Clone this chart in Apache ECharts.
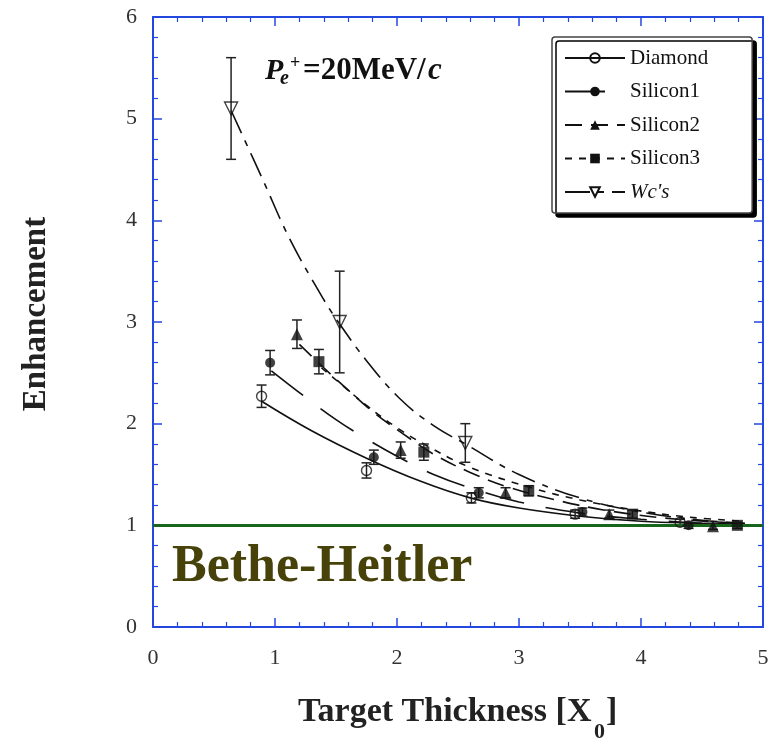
<!DOCTYPE html>
<html>
<head>
<meta charset="utf-8">
<script src="https://cdn.jsdelivr.net/npm/echarts@6/dist/echarts.min.js"></script>
<style>
  html, body { margin: 0; padding: 0; background: #fff; }
  #chart { width: 776px; height: 743px; }
</style>
</head>
<body>
<div id="chart"></div>
<script>
// Axis ticks
const xTickValues = [0, 1, 2, 3, 4, 5];
const yTickValues = [0, 1, 2, 3, 4, 5, 6];
const betheHeitler = 1;

// Measured enhancement (x = target thickness in X0) with errors
const diamondX   = [0.89, 1.75, 2.61, 3.46, 4.32];
const diamondY   = [2.27, 1.54, 1.27, 1.11, 1.03];
const diamondErr = [0.11, 0.075, 0.05, 0.04, 0.03];

const silicon1X   = [0.96, 1.81, 2.67, 3.52, 4.39];
const silicon1Y   = [2.60, 1.67, 1.32, 1.13, 1.00];
const silicon1Err = [0.12, 0.07, 0.05, 0.04, 0.03];

const silicon2X   = [1.18, 2.03, 2.89, 3.74, 4.59];
const silicon2Y   = [2.88, 1.74, 1.32, 1.11, 0.99];
const silicon2Err = [0.14, 0.08, 0.05, 0.04, 0.03];

const silicon3X   = [1.36, 2.22, 3.08, 3.93, 4.79];
const silicon3Y   = [2.61, 1.72, 1.34, 1.11, 1.00];
const silicon3Err = [0.12, 0.08, 0.05, 0.04, 0.03];

const wcX   = [0.64, 1.53, 2.56];
const wcY   = [5.10, 3.00, 1.81];
const wcErr = [0.50, 0.50, 0.19];

// Fitted curves
const diamondFitX = [0.89, 1.3, 1.75, 2.2, 2.6, 3.0, 3.5, 4.0, 4.5, 4.85];
const diamondFitY = [2.22, 1.93, 1.66, 1.43, 1.27, 1.17, 1.09, 1.04, 1.02, 1.01];

const silicon1FitX = [0.97, 1.25, 1.5, 1.75, 2.0, 2.3, 2.65, 3.0, 3.5, 4.0, 4.5, 4.85];
const silicon1FitY = [2.52, 2.26, 2.04, 1.85, 1.68, 1.50, 1.35, 1.23, 1.12, 1.06, 1.02, 1.01];

const silicon2FitX = [1.2, 1.4, 1.6, 1.8, 2.05, 2.3, 2.6, 2.9, 3.3, 3.75, 4.3, 4.85];
const silicon2FitY = [2.78, 2.55, 2.33, 2.12, 1.90, 1.70, 1.52, 1.38, 1.25, 1.14, 1.06, 1.02];

const silicon3FitX = [1.38, 1.52, 1.75, 2.0, 2.25, 2.6, 3.1, 3.5, 3.95, 4.4, 4.85];
const silicon3FitY = [2.55, 2.41, 2.18, 1.96, 1.78, 1.57, 1.37, 1.25, 1.15, 1.08, 1.04];

const wcFitX = [0.64, 0.9, 1.12, 1.39, 1.53, 1.75, 2.02, 2.3, 2.56, 3.0, 3.5, 4.0, 4.5, 4.85];
const wcFitY = [5.08, 4.40, 3.82, 3.24, 2.98, 2.62, 2.25, 1.98, 1.80, 1.50, 1.27, 1.13, 1.05, 1.02];

const serif = 'Liberation Serif, Times New Roman, serif';
const axisBlue = '#2447e0';
const ink = '#111';

const zip = (xs, ys) => xs.map((x, i) => [x, ys[i]]);
const errRows = (xs, ys, es) => xs.map((x, i) => [x, ys[i] - es[i], ys[i] + es[i]]);

const groups = [
  { name: 'Diamond', x: diamondX, y: diamondY, e: diamondErr, fx: diamondFitX, fy: diamondFitY,
    symbol: 'circle', size: 10, hollow: true, rotate: 0, dash: 'solid' },
  { name: 'Silicon1', x: silicon1X, y: silicon1Y, e: silicon1Err, fx: silicon1FitX, fy: silicon1FitY,
    symbol: 'circle', size: 10, hollow: false, rotate: 0, dash: [40, 22] },
  { name: 'Silicon2', x: silicon2X, y: silicon2Y, e: silicon2Err, fx: silicon2FitX, fy: silicon2FitY,
    symbol: 'triangle', size: 12, hollow: false, rotate: 0, dash: [17, 9] },
  { name: 'Silicon3', x: silicon3X, y: silicon3Y, e: silicon3Err, fx: silicon3FitX, fy: silicon3FitY,
    symbol: 'rect', size: 11, hollow: false, rotate: 0, dash: [7, 7] },
  { name: "Wc's", x: wcX, y: wcY, e: wcErr, fx: wcFitX, fy: wcFitY,
    symbol: 'triangle', size: 13, hollow: true, rotate: 180, dash: [25, 8, 6, 8] }
];

const markerStyle = g => g.hollow
  ? { color: 'rgba(255,255,255,0)', borderColor: ink, borderWidth: 1.4 }
  : { color: ink, borderColor: ink, borderWidth: 0 };

const series = [];
groups.forEach(g => {
  // fitted curve (also supplies the legend icon)
  series.push({
    type: 'line', name: g.name, data: zip(g.fx, g.fy),
    smooth: 0.4, showSymbol: false, symbol: g.symbol, symbolSize: g.size,
    symbolRotate: g.rotate, itemStyle: markerStyle(g),
    lineStyle: { color: ink, width: 1.6, type: g.dash },
    silent: true, z: 3
  });
});
groups.forEach(g => {
  // vertical error bars with caps
  series.push({
    type: 'custom', name: g.name + ' errors', data: errRows(g.x, g.y, g.e), silent: true, z: 4,
    renderItem: (params, api) => {
      const x = api.value(0);
      const top = api.coord([x, api.value(2)]);
      const bot = api.coord([x, api.value(1)]);
      const w = 5;
      const st = { stroke: '#222', lineWidth: 1.5 };
      return { type: 'group', children: [
        { type: 'line', shape: { x1: top[0], y1: top[1], x2: bot[0], y2: bot[1] }, style: st },
        { type: 'line', shape: { x1: top[0] - w, y1: top[1], x2: top[0] + w, y2: top[1] }, style: st },
        { type: 'line', shape: { x1: bot[0] - w, y1: bot[1], x2: bot[0] + w, y2: bot[1] }, style: st }
      ]};
    }
  });
  // data markers
  series.push({
    type: 'scatter', name: g.name, data: zip(g.x, g.y),
    symbol: g.symbol, symbolSize: g.size, symbolRotate: g.rotate,
    itemStyle: markerStyle(g), silent: true, z: 5
  });
});

// Bethe-Heitler reference level
series.push({
  type: 'line', name: 'Bethe-Heitler', data: [], silent: true,
  markLine: {
    silent: true, symbol: 'none', label: { show: false },
    lineStyle: { color: '#17661b', width: 3, type: 'solid' },
    data: [{ yAxis: betheHeitler }]
  }
});

const xMin = xTickValues[0], xMax = xTickValues[xTickValues.length - 1];
const yMin = yTickValues[0], yMax = yTickValues[yTickValues.length - 1];

const axisCommon = () => ({
  type: 'value',
  axisLine: { show: true, onZero: false, lineStyle: { color: axisBlue, width: 2 } },
  axisTick: { show: true, inside: true, length: 9, lineStyle: { color: axisBlue, width: 1.5 } },
  minorTick: { show: true, splitNumber: 5, length: 5, lineStyle: { color: axisBlue, width: 1.2 } },
  splitLine: { show: false },
  minorSplitLine: { show: false }
});

const chart = echarts.init(document.getElementById('chart'), null, { renderer: 'canvas' });
chart.setOption({
  backgroundColor: '#fff',
  animation: false,
  grid: { left: 153, right: 13, top: 17, bottom: 116 },
  xAxis: [
    Object.assign(axisCommon(), {
      position: 'bottom', min: xMin, max: xMax, interval: 1,
      axisLabel: { show: true, margin: 20, fontFamily: serif, fontSize: 22, color: '#333',
        formatter: v => String(v) }
    }),
    Object.assign(axisCommon(), {
      position: 'top', min: xMin, max: xMax, interval: 1, axisLabel: { show: false }
    })
  ],
  yAxis: [
    Object.assign(axisCommon(), {
      position: 'left', min: yMin, max: yMax, interval: 1,
      axisLabel: { show: true, margin: 16, fontFamily: serif, fontSize: 22, color: '#333',
        formatter: v => String(v) }
    }),
    Object.assign(axisCommon(), {
      position: 'right', min: yMin, max: yMax, interval: 1, axisLabel: { show: false }
    })
  ],
  legend: {
    data: groups.map(g => g.name),
    orient: 'vertical',
    left: 552, top: 37,
    padding: [10, 44, 10, 12],
    itemWidth: 60, itemHeight: 12, itemGap: 11.5,
    backgroundColor: '#fff',
    borderColor: '#444', borderWidth: 1.5, borderRadius: 3,
    shadowColor: '#000', shadowBlur: 0, shadowOffsetX: 4, shadowOffsetY: 4,
    selectedMode: false,
    textStyle: { fontFamily: serif, fontSize: 21, color: '#111', lineHeight: 22,
      rich: { it: { fontFamily: serif, fontSize: 21, fontStyle: 'italic', color: '#111' } } },
    formatter: n => n === "Wc's" ? '{it|' + n + '}' : n
  },
  graphic: [
    { type: 'text', x: 36, y: 314, rotation: Math.PI / 2,
      style: { text: 'Enhancement', fontFamily: serif, fontSize: 33, fontWeight: 'bold', fill: '#222',
        textAlign: 'center', textVerticalAlign: 'middle' } },
    { type: 'text', x: 298, y: 712,
      style: { text: 'Target Thickness [X', fontFamily: serif, fontSize: 34, fontWeight: 'bold', fill: '#222',
        textAlign: 'left', textVerticalAlign: 'middle' } },
    { type: 'text', x: 594, y: 732,
      style: { text: '0', fontFamily: serif, fontSize: 22, fontWeight: 'bold', fill: '#222',
        textAlign: 'left', textVerticalAlign: 'middle' } },
    { type: 'text', x: 606, y: 712,
      style: { text: ']', fontFamily: serif, fontSize: 34, fontWeight: 'bold', fill: '#222',
        textAlign: 'left', textVerticalAlign: 'middle' } },
    { type: 'text', x: 265, y: 71,
      style: { text: 'P', fontFamily: serif, fontSize: 30, fontWeight: 'bold', fontStyle: 'italic', fill: '#111',
        textAlign: 'left', textVerticalAlign: 'middle' } },
    { type: 'text', x: 280, y: 79,
      style: { text: 'e', fontFamily: serif, fontSize: 20, fontWeight: 'bold', fontStyle: 'italic', fill: '#111',
        textAlign: 'left', textVerticalAlign: 'middle' } },
    { type: 'text', x: 290, y: 63,
      style: { text: '+', fontFamily: serif, fontSize: 18, fontWeight: 'bold', fill: '#111',
        textAlign: 'left', textVerticalAlign: 'middle' } },
    { type: 'text', x: 303, y: 71,
      style: { text: '=20MeV/', fontFamily: serif, fontSize: 31, fontWeight: 'bold', fill: '#111',
        textAlign: 'left', textVerticalAlign: 'middle' } },
    { type: 'text', x: 428, y: 71,
      style: { text: 'c', fontFamily: serif, fontSize: 31, fontWeight: 'bold', fontStyle: 'italic', fill: '#111',
        textAlign: 'left', textVerticalAlign: 'middle' } },
    { type: 'text', x: 172, y: 568, z: 10,
      style: { text: 'Bethe-Heitler', fontFamily: serif, fontSize: 52, fontWeight: 'bold', fill: '#46420a',
        textAlign: 'left', textVerticalAlign: 'middle' } }
  ],
  series: series
});
</script>
</body>
</html>
